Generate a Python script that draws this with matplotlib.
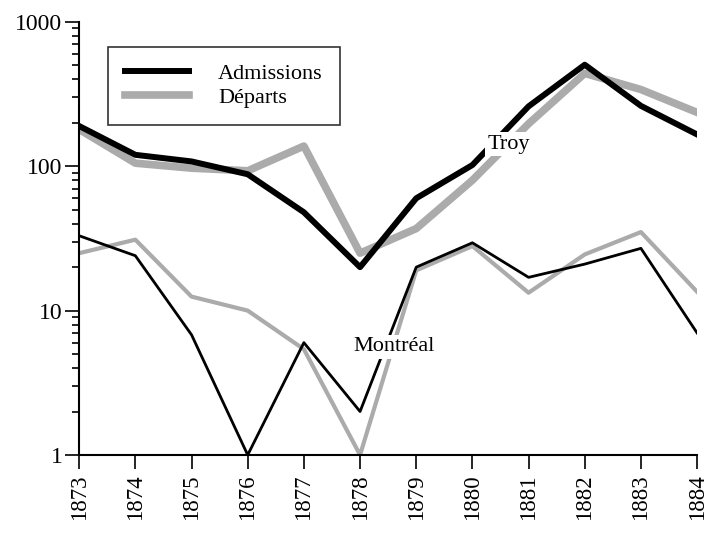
import matplotlib.pyplot as plt
from matplotlib.ticker import LogLocator, NullFormatter, FixedLocator, FixedFormatter

plt.rcParams['font.family'] = ['Liberation Serif', 'DejaVu Serif']

years = list(range(1873, 1885))
troy_adm = [190, 120, 108, 88, 48, 20, 60, 102, 260, 505, 262, 166]
troy_dep = [180, 105, 97, 93, 138, 25, 37, 80, 197, 440, 340, 236]
mtl_adm = [33, 24, 6.8, 1, 6.0, 2.0, 20, 29.5, 17, 21, 27, 7]
mtl_dep = [25, 31, 12.5, 10, 5.4, 1, 19, 28, 13.3, 24.5, 35, 13.5]

grey = '#ababab'

fig = plt.figure(figsize=(7.07, 5.34), dpi=100)
ax = fig.add_axes([0.112, 0.148, 0.874, 0.811])

ax.plot(years, mtl_dep, color=grey, lw=3.0, zorder=2)
ax.plot(years, mtl_adm, color='black', lw=2.0, zorder=3)
ax.plot(years, troy_dep, color=grey, lw=5.5, zorder=2, label='Départs')
ax.plot(years, troy_adm, color='black', lw=4.3, zorder=3, label='Admissions')

ax.set_yscale('log')
ax.set_ylim(1, 1000)
ax.set_xlim(1873, 1884)

ax.yaxis.set_major_locator(FixedLocator([1, 10, 100, 1000]))
ax.yaxis.set_major_formatter(FixedFormatter(['1', '10', '100', '1000']))
ax.yaxis.set_minor_locator(LogLocator(base=10, subs=range(2, 10)))
ax.yaxis.set_minor_formatter(NullFormatter())
ax.tick_params(axis='y', which='major', length=10, width=1.2, labelsize=17, direction='out', pad=2)
ax.tick_params(axis='y', which='minor', length=5, width=1.2, direction='out')

ax.set_xticks(years)
ax.set_xticklabels([str(y) for y in years], rotation=90)
ax.tick_params(axis='x', length=10, width=1.2, labelsize=16.5, direction='out', pad=4)

for s in ['top', 'right']:
    ax.spines[s].set_visible(False)
for s in ['left', 'bottom']:
    ax.spines[s].set_linewidth(1.5)

ax.text(1880.65, 142, 'Troy', fontsize=16, ha='center', va='center', zorder=5,
        bbox=dict(facecolor='white', edgecolor='none', pad=2))
ax.text(1878.6, 5.6, 'Montréal', fontsize=16, ha='center', va='center', zorder=5,
        bbox=dict(facecolor='white', edgecolor='none', pad=2))

h, l = ax.get_legend_handles_labels()
leg = ax.legend(h[::-1], l[::-1], loc='upper left', bbox_to_anchor=(0.047, 0.942),
                fontsize=16, frameon=True, fancybox=False, handlelength=2.9,
                borderpad=0.75, borderaxespad=0, handletextpad=1.3, labelspacing=0.15)
leg.get_frame().set_edgecolor('black')
leg.get_frame().set_linewidth(1.2)

fig.savefig('out.png', dpi=100)
